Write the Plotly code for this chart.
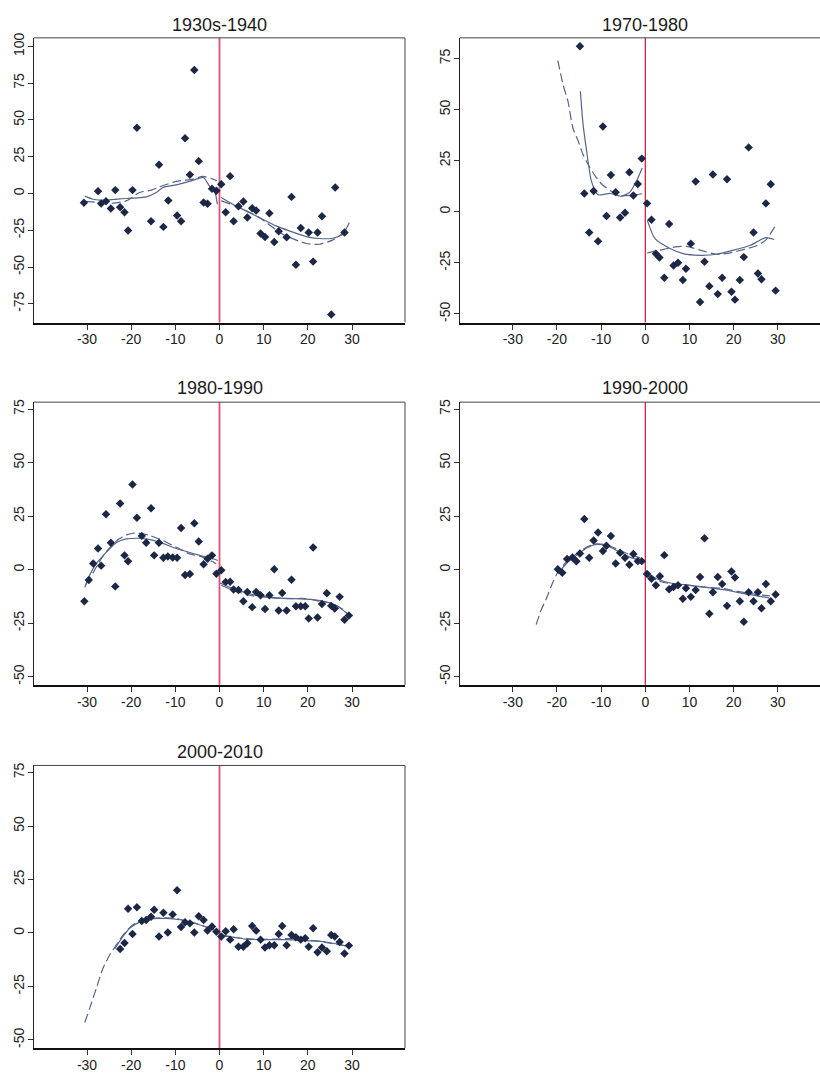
import plotly.graph_objects as go

W, H = 820, 1074

titles = ["1930s-1940", "1970-1980", "1980-1990", "1990-2000", "2000-2010"]
x_tickvals = [-30, -20, -10, 0, 10, 20, 30]
x_ticktext = ["-30", "-20", "-10", "0", "10", "20", "30"]
y_tickvals_p1 = [-75, -50, -25, 0, 25, 50, 75, 100]
y_tickvals_other = [-50, -25, 0, 25, 50, 75]

# ---------------- Panel 1: 1930s-1940 ----------------
p1_x = [-30.7, -27.5, -26.8, -25.7, -24.6, -23.6, -22.5, -21.5, -20.7, -19.7, -18.7, -15.5, -13.7, -12.7,
        -11.6, -9.6, -8.7, -7.8, -6.7, -5.7, -4.7, -3.6, -2.7, -1.7, -0.7, 0.4, 1.4, 2.4, 3.2, 4.3, 5.4,
        6.3, 7.4, 8.3, 9.3, 10.3, 11.3, 12.4, 13.4, 15.2, 16.3, 17.3, 18.4, 20.2, 21.2, 22.2, 23.2, 25.3,
        26.2, 28.3]
p1_y = [-6.3, 1.6, -6.8, -5.2, -10.2, 2.3, -9.3, -12.7, -25.2, 2.3, 44.7, -18.8, 19.5, -22.7,
        -4.8, -15.0, -18.8, 37.6, 12.7, 83.9, 22.0, -6.1, -7.0, 3.2, 1.8, 6.3, -12.7, 11.8, -18.8, -8.6, -5.4,
        -16.3, -10.0, -11.6, -27.2, -29.5, -13.4, -32.9, -25.6, -29.7, -2.3, -48.5, -23.4, -26.5, -46.3, -26.5,
        -15.4, -82.3, 4.1, -26.5]
p1_ls_x = [-30.5, -28.6, -25.6, -22.6, -19.6, -16.6, -14.3, -12.8, -9.8, -6.8, -4.5, -3.6, -2.3, -1.1, -0.75, -0.5]
p1_ls_y = [-1.8, -3.9, -4.5, -3.6, -3.2, -2.3, 0.7, 4.1, 5.9, 8.2, 10.4, 10.9, 5.2, 1.8, -2.7, -7.3]
p1_ld_x = [-30.3, -27.1, -24.1, -21.1, -18.1, -15.4, -13.6, -9.8, -6.0, -3.8, -1.5, -0.6]
p1_ld_y = [-5.4, -6.1, -6.6, -5.0, 0.7, 2.3, 4.5, 8.2, 9.8, 11.6, 9.8, 8.6]
p1_rs_x = [0.4, 3.0, 6.0, 9.0, 12.8, 15.8, 19.6, 22.6, 25.6, 27.9, 29.4]
p1_rs_y = [-2.7, -7.3, -11.8, -16.3, -22.0, -25.4, -29.3, -30.6, -30.4, -27.7, -19.7]
p1_rd_x = [0.4, 4.5, 9.0, 14.3, 19.6, 22.6, 25.6, 28.3]
p1_rd_y = [-5.0, -9.5, -16.3, -27.7, -34.0, -34.5, -31.7, -26.1]

# ---------------- Panel 2: 1970-1980 ----------------
p2_x = [-14.8, -13.8, -12.7, -11.7, -10.7, -9.6, -8.8, -7.8, -6.7, -5.7, -4.6, -3.6, -2.7, -1.7, -0.8,
        0.4, 1.4, 2.4, 3.2, 4.3, 5.4, 6.4, 7.4, 8.5, 9.2, 10.3, 11.4, 12.4, 13.4, 14.5, 15.3, 16.4, 17.4,
        18.5, 19.5, 20.3, 21.4, 22.3, 23.4, 24.5, 25.5, 26.3, 27.3, 28.4, 29.5]
p2_y = [81.0, 8.9, -10.1, 10.2, -14.4, 41.7, -2.1, 18.0, 9.6, -2.8, -0.5, 19.3, 8.0, 13.6, 26.0,
        4.1, -3.9, -20.5, -22.4, -32.3, -6.0, -26.3, -25.0, -33.4, -27.9, -15.6, 14.8, -44.2, -24.5, -36.4,
        18.2, -40.3, -32.3, 15.9, -39.1, -43.0, -33.4, -22.2, 31.5, -10.1, -30.2, -33.0, 4.1, 13.5, -38.6]
p2_ls_x = [-14.7, -14.1, -13.3, -12.2, -10.7, -8.0, -5.4, -3.5, -2.0, -0.7]
p2_ls_y = [59.0, 43.0, 30.0, 15.0, 8.3, 9.0, 7.6, 9.6, 15.0, 21.4]
p2_ld_x = [-19.8, -18.6, -17.5, -16.4, -15.2, -14.1, -12.6, -11.4, -9.9, -8.0, -5.8, -3.1, -0.7]
p2_ld_y = [74.0, 62.0, 54.0, 41.0, 34.7, 28.0, 21.8, 17.7, 13.6, 10.4, 8.0, 8.0, 8.8]
p2_rs_x = [0.45, 2.2, 5.6, 8.6, 12.4, 16.2, 20.0, 23.8, 27.2, 29.2]
p2_rs_y = [-4.2, -13.2, -18.0, -20.5, -21.3, -20.8, -18.8, -16.4, -12.7, -13.6]
p2_rd_x = [0.45, 3.3, 6.8, 9.4, 12.4, 16.2, 19.3, 22.2, 24.9, 27.2, 29.5]
p2_rd_y = [-20.1, -18.8, -17.2, -16.9, -18.8, -20.8, -20.1, -18.5, -16.9, -14.0, -6.7]

# ---------------- Panel 3: 1980-1990 ----------------
p3_x = [-30.6, -29.6, -28.6, -27.5, -26.8, -25.7, -24.6, -23.6, -22.5, -21.5, -20.7, -19.7, -18.7, -17.6,
        -16.6, -15.5, -14.8, -13.7, -12.7, -11.7, -10.6, -9.6, -8.7, -7.8, -6.7, -5.7, -4.7, -3.6, -2.7,
        -1.7, -0.7, 0.4, 1.4, 2.4, 3.2, 4.3, 5.4, 6.3, 7.4, 8.3, 9.3, 10.3, 11.3, 12.4, 13.4, 14.2, 15.2,
        16.3, 17.3, 18.4, 19.4, 20.2, 21.2, 22.2, 23.2, 24.3, 25.3, 26.1, 27.2, 28.3, 29.3]
p3_y = [-14.7, -4.8, 2.9, 9.9, 1.9, 25.9, 12.6, -7.8, 30.9, 6.7, 3.9, 39.8, 24.3, 15.8,
        12.6, 28.7, 6.7, 12.6, 5.6, 6.2, 5.7, 5.6, 19.5, -2.5, -2.0, 21.7, 13.2, 2.5, 5.1,
        6.7, -1.9, -0.3, -5.7, -5.6, -9.3, -9.5, -14.7, -10.4, -17.5, -10.4, -11.9, -18.4, -11.9, 0.2, -19.1,
        -10.9, -19.1, -4.7, -17.1, -17.1, -17.1, -22.8, 10.4, -22.3, -16.0, -11.0, -16.9, -18.1, -12.7,
        -23.4, -21.4]
p3_ls_x = [-30.5, -29.4, -27.9, -25.6, -23.4, -21.1, -18.8, -16.6, -13.6, -10.6, -7.5, -4.5, -1.5, -0.4]
p3_ls_y = [-8.2, -2.6, 2.8, 8.2, 12.6, 14.4, 14.7, 14.4, 12.9, 10.5, 8.5, 6.7, 5.1, 4.3]
p3_ld_x = [-30.3, -28.5, -26.8, -25.0, -23.0, -21.0, -18.8, -15.8, -12.8, -9.8, -6.8, -3.8, -0.75]
p3_ld_y = [-7.0, -1.0, 5.0, 10.0, 14.0, 16.3, 17.2, 16.0, 13.6, 10.5, 7.4, 5.9, 2.8]
p3_rs_x = [0.15, 3.0, 7.5, 12.0, 16.6, 21.1, 24.1, 26.4, 29.2]
p3_rs_y = [-6.2, -8.8, -11.6, -13.2, -13.5, -14.0, -15.0, -16.6, -20.9]
p3_rd_x = [0.4, 3.0, 7.5, 10.5, 15.1, 19.6, 22.6, 25.6, 28.6]
p3_rd_y = [-7.3, -9.6, -12.2, -12.7, -13.5, -13.5, -14.7, -15.8, -19.4]

# ---------------- Panel 4: 1990-2000 ----------------
p4_x = [-19.8, -18.8, -17.7, -16.5, -15.6, -14.8, -13.8, -12.7, -11.7, -10.7, -9.6, -8.8, -7.8, -6.7,
        -5.7, -4.6, -3.6, -2.7, -1.7, -0.8, 0.4, 1.4, 2.4, 3.3, 4.3, 5.4, 6.4, 7.4, 8.5, 9.2, 10.3, 11.4,
        12.4, 13.4, 14.5, 15.3, 16.4, 17.4, 18.5, 19.5, 20.3, 21.4, 22.3, 23.4, 24.5, 25.5, 26.3, 27.3,
        28.4, 29.5]
p4_y = [0.2, -1.4, 5.0, 5.7, 3.9, 7.6, 23.7, 5.6, 13.6, 17.4, 8.7, 11.2, 15.7, 2.9,
        7.9, 5.6, 2.3, 7.3, 4.0, 4.0, -2.0, -4.2, -7.3, -3.1, 6.8, -9.1, -8.1, -7.3, -13.6, -8.7, -12.7,
        -9.5, -3.4, 14.7, -20.6, -10.5, -3.4, -6.7, -16.9, -0.8, -3.6, -14.7, -24.3, -10.5, -14.7, -10.5,
        -18.0, -6.7, -14.7, -11.6]
p4_ls_x = [-19.8, -17.9, -15.6, -13.3, -11.1, -8.8, -6.5, -3.5, -0.5]
p4_ls_y = [-1.9, 2.8, 6.7, 10.1, 11.8, 11.3, 9.0, 5.9, 3.9]
p4_ld_x = [-24.7, -23.6, -22.4, -20.9, -19.8, -17.9, -15.6, -13.3, -11.1, -8.8, -6.5, -3.5, -0.5]
p4_ld_y = [-25.6, -18.9, -13.5, -5.7, -1.1, 3.6, 7.4, 10.5, 12.1, 11.6, 9.8, 7.0, 5.1]
p4_rs_x = [0.5, 2.6, 5.6, 10.2, 14.7, 18.5, 22.3, 25.3, 28.0]
p4_rs_y = [-1.9, -4.2, -6.2, -7.3, -8.5, -9.6, -11.2, -12.2, -13.2]
p4_rd_x = [0.5, 4.1, 8.6, 13.2, 17.7, 21.5, 25.3, 28.2]
p4_rd_y = [-2.9, -6.0, -7.0, -8.1, -8.8, -10.4, -11.6, -12.2]

# ---------------- Panel 5: 2000-2010 ----------------
p5_x = [-22.5, -21.5, -20.7, -19.7, -18.7, -17.6, -16.6, -15.5, -14.8, -13.7, -12.7, -11.7, -10.6, -9.6,
        -8.7, -7.8, -6.7, -5.7, -4.7, -3.6, -2.7, -1.7, -0.7, 0.4, 1.4, 2.4, 3.2, 4.3, 5.4, 6.3, 7.4, 8.3,
        9.3, 10.3, 11.3, 12.4, 13.4, 14.2, 15.2, 16.3, 17.3, 18.4, 19.4, 20.2, 21.2, 22.2, 23.2, 24.3,
        25.3, 26.1, 27.2, 28.3, 29.3]
p5_y = [-7.5, -4.7, 11.3, -0.5, 12.0, 5.6, 6.1, 7.6, 10.9, -1.6, 9.5, 0.2, 8.7, 20.0,
        2.8, 5.0, 4.5, 0.2, 7.8, 6.1, 1.2, 3.0, 0.6, -1.6, 0.8, -3.1, 1.7, -6.4, -6.4, -4.8, 3.3, 1.1,
        -3.1, -6.8, -5.7, -5.7, -0.5, 3.3, -5.7, -0.9, -2.0, -3.1, -2.5, -6.4, 2.2, -9.0, -6.8, -8.5,
        -0.9, -1.6, -4.2, -9.6, -5.9]
p5_ls_x = [-23.7, -22.2, -20.3, -18.1, -15.1, -12.1, -9.0, -6.0, -3.0, -0.4]
p5_ls_y = [-7.3, -2.6, 2.3, 5.1, 6.7, 6.8, 6.2, 4.8, 2.8, 0.8]
p5_ld_x = [-30.5, -29.4, -27.9, -26.4, -24.9, -23.4, -21.9, -19.6, -17.3, -14.3, -10.6, -6.8, -3.0, -0.4]
p5_ld_y = [-41.8, -35.2, -25.9, -16.6, -10.4, -5.7, -1.1, 3.9, 5.9, 7.0, 7.0, 5.4, 2.8, 0.5]
p5_rs_x = [0.15, 3.0, 6.0, 10.5, 15.1, 19.6, 24.1, 28.6]
p5_rs_y = [-0.8, -1.9, -2.9, -3.1, -3.1, -3.6, -4.2, -6.0]
p5_rd_x = [0.15, 3.0, 7.5, 12.0, 16.6, 21.9, 25.6, 28.6]
p5_rd_y = [-1.1, -2.0, -2.9, -2.9, -2.6, -3.7, -5.0, -6.0]

panels = [
    dict(px=p1_x, py=p1_y, lines=[(p1_ls_x, p1_ls_y, "solid"), (p1_ld_x, p1_ld_y, "dash"),
                                  (p1_rs_x, p1_rs_y, "solid"), (p1_rd_x, p1_rd_y, "dash")],
         xpix=(34, 405), ypix=(33, 319), xr=[-42, 42], yr=[-87.7, 105.8], yt=y_tickvals_p1,
         tpix=20, full=True, red="#e05078", redw=1.8),
    dict(px=p2_x, py=p2_y, lines=[(p2_ls_x, p2_ls_y, "solid"), (p2_ld_x, p2_ld_y, "dash"),
                                  (p2_rs_x, p2_rs_y, "solid"), (p2_rd_x, p2_rd_y, "dash")],
         xpix=(460, 820), ypix=(33, 319), xr=[-41.95, 39.55], yr=[-54.2, 85.1], yt=y_tickvals_other,
         tpix=20, full=False, red="#c8102e", redw=1.2),
    dict(px=p3_x, py=p3_y, lines=[(p3_ls_x, p3_ls_y, "solid"), (p3_ld_x, p3_ld_y, "dash"),
                                  (p3_rs_x, p3_rs_y, "solid"), (p3_rd_x, p3_rd_y, "dash")],
         xpix=(34, 405), ypix=(399, 683), xr=[-42, 42], yr=[-53.8, 78.3], yt=y_tickvals_other,
         tpix=385, full=True, red="#e05078", redw=1.8),
    dict(px=p4_x, py=p4_y, lines=[(p4_ls_x, p4_ls_y, "solid"), (p4_ld_x, p4_ld_y, "dash"),
                                  (p4_rs_x, p4_rs_y, "solid"), (p4_rd_x, p4_rd_y, "dash")],
         xpix=(460, 820), ypix=(399, 683), xr=[-41.95, 39.55], yr=[-53.8, 78.3], yt=y_tickvals_other,
         tpix=385, full=False, red="#c8102e", redw=1.2),
    dict(px=p5_x, py=p5_y, lines=[(p5_ls_x, p5_ls_y, "solid"), (p5_ld_x, p5_ld_y, "dash"),
                                  (p5_rs_x, p5_rs_y, "solid"), (p5_rd_x, p5_rd_y, "dash")],
         xpix=(34, 405), ypix=(764, 1048), xr=[-42, 42], yr=[-53.8, 78.3], yt=y_tickvals_other,
         tpix=750, full=True, red="#e05078", redw=1.8),
]

FONT = "Liberation Sans, Arial, sans-serif"
LINE_COL = "#56648a"
PT_COL = "#1c2746"

fig = go.Figure()
layout = dict(width=W, height=H, margin=dict(l=0, r=0, t=0, b=0), paper_bgcolor="white",
              plot_bgcolor="white", showlegend=False, font=dict(family=FONT, color="#222"))
shapes = []
annotations = []

for i, p in enumerate(panels, start=1):
    xa = "x" if i == 1 else f"x{i}"
    ya = "y" if i == 1 else f"y{i}"
    for lx, ly, st in p["lines"]:
        fig.add_trace(go.Scatter(x=lx, y=ly, mode="lines", xaxis=xa, yaxis=ya,
                                 line=dict(color=LINE_COL, width=1.2, shape="spline", smoothing=0.6,
                                           dash=("9px,4px" if st == "dash" else "solid")),
                                 hoverinfo="skip"))
    fig.add_trace(go.Scatter(x=p["px"], y=p["py"], mode="markers", xaxis=xa, yaxis=ya,
                             marker=dict(symbol="diamond", size=6.5, color=PT_COL, line=dict(width=0))))
    x0, x1 = p["xpix"]
    y0, y1 = p["ypix"]
    layout["xaxis" if i == 1 else f"xaxis{i}"] = dict(
        domain=[x0 / W, x1 / W], range=p["xr"], anchor=ya, tickvals=x_tickvals, ticktext=x_ticktext,
        ticks="outside", ticklen=5, tickcolor="#333", showgrid=False, zeroline=False,
        showline=True, linecolor="#111", linewidth=2, tickfont=dict(size=14, color="#222"),
        ticklabelstandoff=-2, fixedrange=True)
    layout["yaxis" if i == 1 else f"yaxis{i}"] = dict(
        domain=[1 - y1 / H, 1 - y0 / H], range=p["yr"], anchor=xa, tickvals=p["yt"],
        ticktext=[str(v) for v in p["yt"]], tickangle=-90,
        ticks="outside", ticklen=5, tickcolor="#333", showgrid=False, zeroline=False,
        showline=True, linecolor="#222", linewidth=1, tickfont=dict(size=14, color="#222"),
        ticklabelstandoff=-2, fixedrange=True)
    # frame: top (and right when fully visible)
    shapes.append(dict(type="line", xref=f"{xa} domain", yref=f"{ya} domain", x0=0, x1=1, y0=1, y1=1,
                       line=dict(color="#444", width=1)))
    if p["full"]:
        shapes.append(dict(type="line", xref=f"{xa} domain", yref=f"{ya} domain", x0=1, x1=1, y0=0, y1=1,
                           line=dict(color="#444", width=1)))
    # cutoff line at 0
    shapes.append(dict(type="line", xref=xa, yref=f"{ya} domain", x0=0, x1=0, y0=0, y1=1,
                       line=dict(color=p["red"], width=p["redw"]), layer="below"))
    annotations.append(dict(text=titles[i - 1], xref=xa, x=0, yref="paper", y=1 - p["tpix"] / H,
                            xanchor="center", yanchor="middle", showarrow=False,
                            font=dict(size=18, color="#1a1a1a", family=FONT)))

layout["shapes"] = shapes
layout["annotations"] = annotations
fig.update_layout(**layout)
fig.write_html("out.html")
